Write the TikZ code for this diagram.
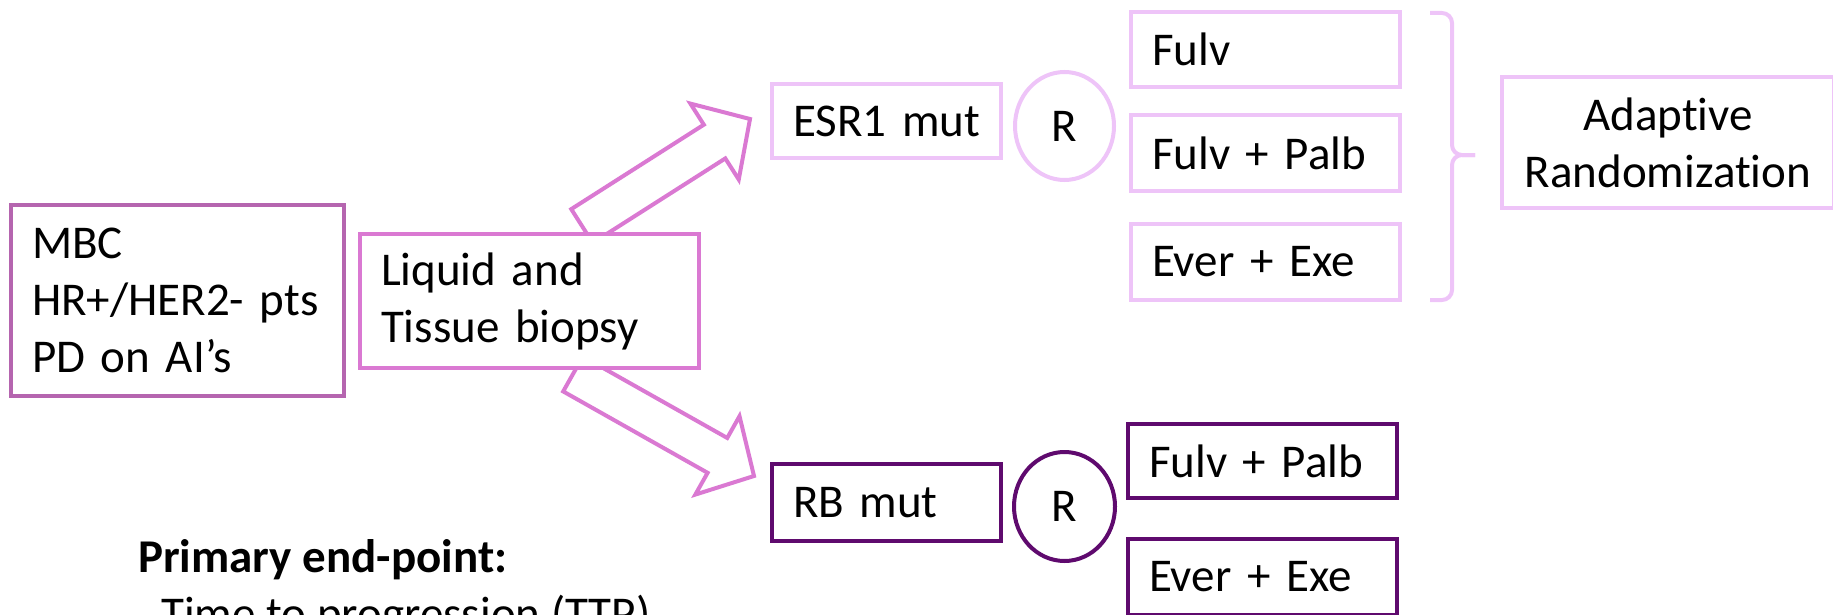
\documentclass[tikz,border=0pt]{standalone}
\usepackage{fontspec}
\setmainfont{Carlito}[Ligatures=NoCommon]
\usetikzlibrary{shapes.geometric,calc,backgrounds}

\definecolor{mbcpurple}{RGB}{181,101,175}
\definecolor{biopsypink}{RGB}{218,121,210}
\definecolor{esrlilac}{RGB}{238,196,248}
\definecolor{rbplum}{RGB}{95,10,110}

\newcommand{\bigfont}{\fontsize{47}{57}\selectfont}
% hollow block arrow from tail to tip
\newcommand{\hollowarrow}[2]{%
  \coordinate (neck) at ($(#2)!42pt!(#1)$);
  \draw[armline] ($(#1)!20pt!90:(#2)$) -- ($(neck)!20pt!-90:(#1)$) -- ($(neck)!45pt!-90:(#1)$) -- (#2)
    -- ($(neck)!45pt!90:(#1)$) -- ($(neck)!20pt!90:(#1)$) -- ($(#1)!20pt!-90:(#2)$) -- cycle;
}

\begin{document}
\begin{tikzpicture}[x=1pt, y=-1pt,
  every node/.style={font=\bigfont},
  box/.style={draw, line width=4pt, fill=white, inner xsep=21pt, inner ysep=0pt, align=left},
  rcircle/.style={ellipse, draw, line width=4pt, fill=white, inner sep=0pt},
  armline/.style={draw=biopsypink, line width=4pt, line join=miter},
  braceline/.style={draw=esrlilac, line width=4pt, rounded corners=10pt}]

\useasboundingbox (0,0) rectangle (1833,615);

\node[box, draw=mbcpurple, minimum width=333pt, minimum height=191pt, text width=291pt] (mbc) at (177.5,300.5) {MBC\\HR+/HER2- pts\\PD on AI’s};
\node[box, draw=biopsypink, minimum width=339pt, minimum height=134pt, text width=297pt] (biopsy) at (529.5,301) {Liquid and\\Tissue biopsy};

\node[box, draw=esrlilac, minimum width=229pt, minimum height=74pt, text width=187pt] (esr) at (886.5,121) {\mbox{ESR1 mut}};
\node[rcircle, draw=esrlilac, minimum width=99pt, minimum height=108pt] (rtop) at (1064.5,126) {R};
\node[box, draw=esrlilac, minimum width=269pt, minimum height=75pt, text width=227pt] (fulv) at (1265.5,49.5) {Fulv};
\node[box, draw=esrlilac, minimum width=269pt, minimum height=76pt, text width=227pt] (fulvpalb) at (1265.5,153) {\mbox{Fulv + Palb}};
\node[box, draw=esrlilac, minimum width=269pt, minimum height=76pt, text width=227pt] (everexe) at (1265.5,262) {\mbox{Ever + Exe}};
\node[box, draw=esrlilac, align=center, minimum width=332pt, minimum height=131pt, text width=290pt] (adaptive) at (1668,142.5) {Adaptive\\Randomization};

\draw[braceline] (1430,13) -- (1452,13) -- (1452,155) -- (1475,155);
\draw[braceline] (1475,155) -- (1452,155) -- (1452,300) -- (1430,300);

\node[box, draw=rbplum, minimum width=229pt, minimum height=77pt, text width=187pt] (rb) at (886.5,502.5) {\mbox{RB mut}};
\node[rcircle, draw=rbplum, minimum width=101pt, minimum height=109pt] (rbot) at (1064.5,506.5) {R};
\node[box, draw=rbplum, minimum width=269pt, minimum height=74pt, text width=227pt] (fulvpalb2) at (1262.5,461) {\mbox{Fulv + Palb}};
\node[box, draw=rbplum, minimum width=269pt, minimum height=76pt, text width=227pt] (everexe2) at (1262.5,577) {\mbox{Ever + Exe}};

\node[anchor=base west, inner sep=0pt, font=\bigfont\bfseries] (endpoint) at (138,572) {Primary end-point:};
\node[anchor=base west, inner sep=0pt] (ttp) at (161,629) {Time to progression (TTP)};

\begin{scope}[on background layer]
\coordinate (uptail) at ($(biopsy.north)+(52.5,-6)$);
\coordinate (uptip) at ($(esr.west)+(-20,-2)$);
\coordinate (downtail) at ($(biopsy.south)+(43.5,4)$);
\coordinate (downtip) at ($(rb.west)+(-16,-26.5)$);
\hollowarrow{uptail}{uptip}
\hollowarrow{downtail}{downtip}
\end{scope}

\end{tikzpicture}
\end{document}
